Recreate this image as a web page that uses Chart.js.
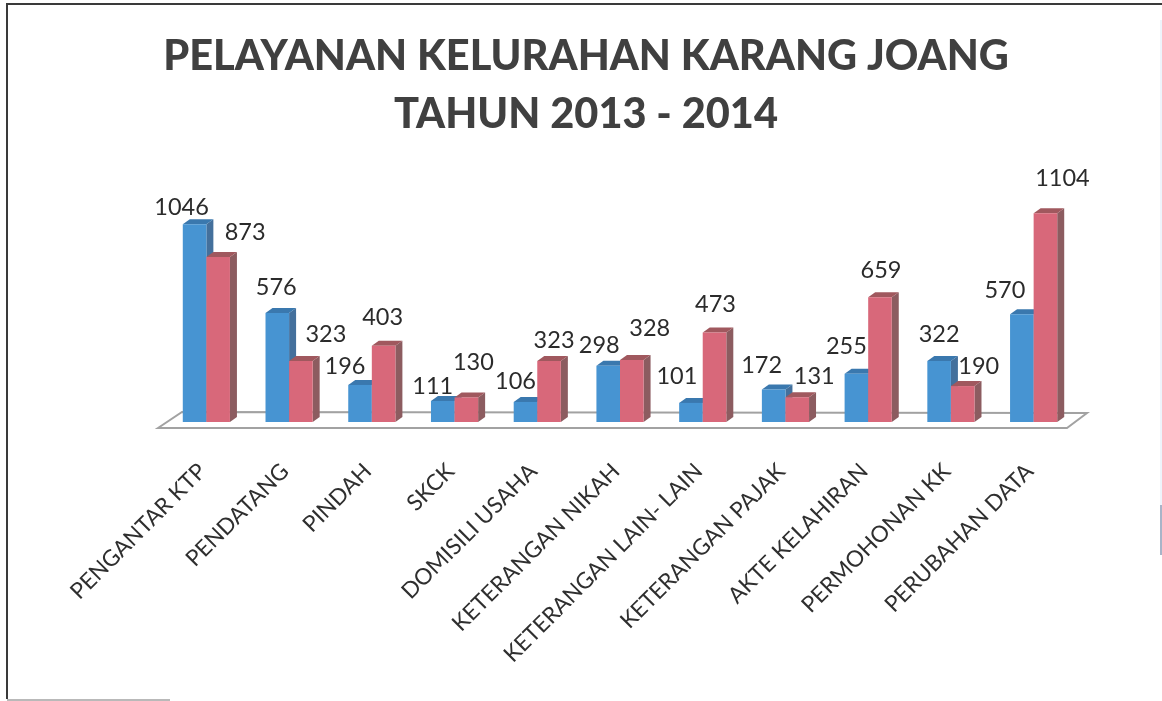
<!DOCTYPE html>
<html>
<head>
<meta charset="utf-8">
<title>Pelayanan Kelurahan Karang Joang</title>
<script src="https://cdn.jsdelivr.net/npm/chart.js@4"></script>
<style>
  html, body { margin: 0; padding: 0; background: #fff; }
  canvas { display: block; }
</style>
</head>
<body>
<canvas id="myChart" width="1162" height="701"></canvas>
<script>
var categories = ["PENGANTAR KTP", "PENDATANG", "PINDAH", "SKCK", "DOMISILI USAHA", "KETERANGAN NIKAH",
  "KETERANGAN LAIN- LAIN", "KETERANGAN PAJAK", "AKTE KELAHIRAN", "PERMOHONAN KK", "PERUBAHAN DATA"];
var values2013 = [1046, 576, 196, 111, 106, 298, 101, 172, 255, 322, 570];
var values2014 = [873, 323, 403, 130, 323, 328, 473, 131, 659, 190, 1104];
var titleLines = ["PELAYANAN KELURAHAN KARANG JOANG", "TAHUN 2013 - 2014"];

// where each number sits relative to the top of its bar, the original was hand placed
var shift2013 = [[-13,-17],[-1,-26],[-15,-19],[-10,-15],[-10,-21],[-9,-20],[-14,-26],[-12,-24],[-10,-27],[0,-27],[-17,-24]];
var shift2014 = [[27,-24],[25,-26],[-1,-28],[7,-35],[5,-20],[18,-32],[1,-28],[17,-21],[1,-27],[16,-20],[17,-35]];

var depthX = 7, depthY = 5;
var blue = {front: "#4794d2", side: "#44709c", top: "#3a78ae"};
var red = {front: "#d8687a", side: "#8c5c60", top: "#a0585e"};

function poly(ctx, pts, color) {
  ctx.fillStyle = color;
  ctx.beginPath();
  pts.forEach(function (p, i) { i ? ctx.lineTo(p[0], p[1]) : ctx.moveTo(p[0], p[1]); });
  ctx.closePath();
  ctx.fill();
}

function frameLine(ctx, color, pts) {
  ctx.strokeStyle = color;
  ctx.beginPath();
  pts.forEach(function (p, i) { i ? ctx.lineTo(p[0], p[1]) : ctx.moveTo(p[0], p[1]); });
  ctx.stroke();
}

var box3d = {
  id: "box3d",
  beforeDraw: function (chart) {
    // scanned page frame, the right and bottom edges nearly faded out
    var ctx = chart.ctx;
    ctx.save();
    ctx.lineWidth = 2;
    frameLine(ctx, "#3a3a3a", [[7, 699], [7, 4], [1162, 4]]);
    frameLine(ctx, "#eef4fb", [[1161, 20], [1161, 505]]);
    frameLine(ctx, "#a8b4c8", [[1161, 505], [1161, 555]]);
    frameLine(ctx, "#b9b9b9", [[7, 700], [170, 700]]);
    ctx.restore();
  },
  beforeDatasetsDraw: function (chart) {
    // floor of the 3d chart
    var ctx = chart.ctx, a = chart.chartArea, y0 = chart.scales.y.getPixelForValue(0);
    ctx.save();
    ctx.strokeStyle = "#a2a2a2";
    ctx.fillStyle = "#ffffff";
    ctx.lineWidth = 2;
    ctx.beginPath();
    ctx.moveTo(a.left - 7, y0 + 6);
    ctx.lineTo(a.left + 17, y0 - 10);
    ctx.lineTo(a.right + 12, y0 - 9);
    ctx.lineTo(a.right - 8, y0 + 6);
    ctx.closePath();
    ctx.fill();
    ctx.stroke();
    // blue first so the red front covers the blue side, chart.js would go the other way
    [0, 1].forEach(function (d) {
      var col = d === 0 ? blue : red, meta = chart.getDatasetMeta(d);
      meta.data.forEach(function (bar) {
        var l = bar.x - bar.width / 2, r = bar.x + bar.width / 2;
        poly(ctx, [[r, bar.y], [r + depthX, bar.y - depthY], [r + depthX, bar.base - depthY], [r, bar.base]], col.side);
        poly(ctx, [[l, bar.y], [l + depthX, bar.y - depthY], [r + depthX, bar.y - depthY], [r, bar.y]], col.top);
      });
      meta.controller.draw();
    });
    ctx.restore();
  },
  beforeDatasetDraw: function () {
    return false;
  },
  afterDatasetsDraw: function (chart) {
    var ctx = chart.ctx;
    ctx.save();
    ctx.font = "23.5px Lato";
    ctx.fillStyle = "#2b2b2b";
    ctx.textAlign = "center";
    ctx.textBaseline = "middle";
    chart.data.datasets.forEach(function (ds, d) {
      var shift = d === 0 ? shift2013 : shift2014;
      chart.getDatasetMeta(d).data.forEach(function (bar, i) {
        ctx.fillText(ds.data[i], bar.x + shift[i][0], bar.y + shift[i][1]);
      });
    });
    ctx.restore();
  }
};

new Chart("myChart", {
  type: "bar",
  plugins: [box3d],
  data: {
    labels: categories,
    datasets: [
      {label: "2013", data: values2013, backgroundColor: blue.front},
      {label: "2014", data: values2014, backgroundColor: red.front}
    ]
  },
  options: {
    responsive: false,
    animation: false,
    layout: {padding: {left: 10, right: 0, top: 0, bottom: 0}},
    datasets: {bar: {barPercentage: 1, categoryPercentage: 0.57}},
    plugins: {
      legend: {display: false},
      tooltip: {enabled: false},
      title: {
        display: true,
        text: titleLines,
        color: "#404040",
        font: {family: "Lato", size: 41.5, weight: 900, lineHeight: 1.398},
        padding: {top: 28, bottom: 51}
      }
    },
    scales: {
      x: {
        grid: {display: false, drawTicks: false},
        border: {display: false},
        ticks: {
          color: "#2f2f2f",
          font: {family: "Lato", size: 22.5},
          minRotation: 45,
          maxRotation: 45,
          autoSkip: false,
          labelOffset: -4,
          padding: 36
        },
        afterFit: function (s) { s.height = 279; }
      },
      y: {
        min: 0,
        max: 1200,
        grid: {display: false},
        border: {display: false},
        ticks: {display: false},
        afterFit: function (s) { s.width = 155; }
      },
      yRight: {
        position: "right",
        grid: {display: false},
        border: {display: false},
        ticks: {display: false},
        afterFit: function (s) { s.width = 87; }
      }
    }
  }
});
</script>
</body>
</html>
